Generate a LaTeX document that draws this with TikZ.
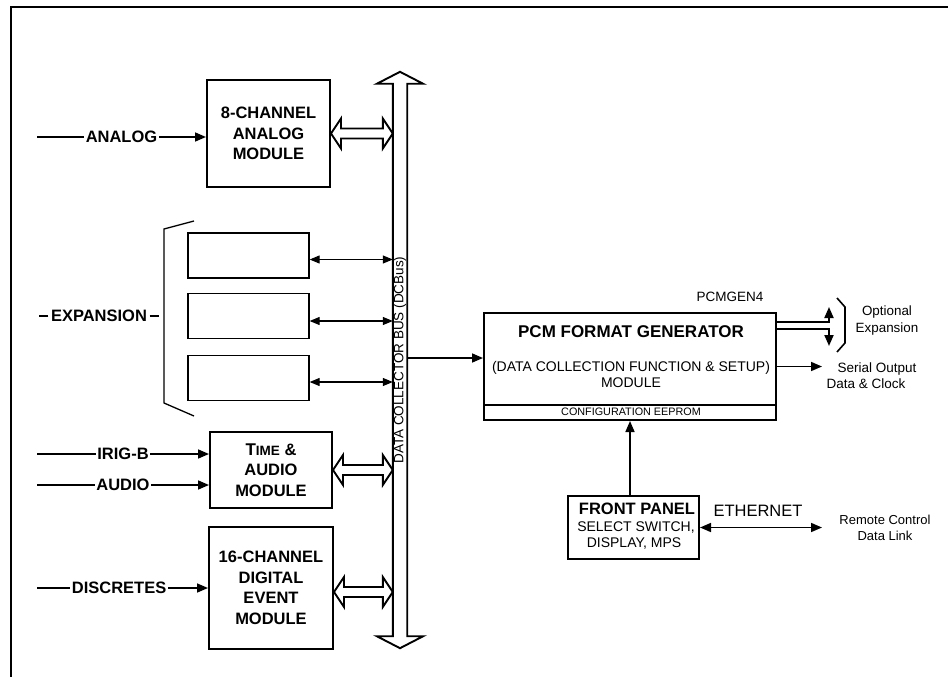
\documentclass[tikz,border=0pt]{standalone}
\usepackage{fontspec}
\setmainfont{Liberation Sans}
\usetikzlibrary{arrows.meta,calc}
\newcommand\fsz[2]{\fontsize{#1}{#2}\selectfont}
\newcommand\hollowarrow[2]{\draw[blk] (#1) -- ++(10,15) -- ++(0,-10) -- ($(#2)+(-10,5)$) -- ++(0,10) -- (#2) -- ++(-10,-15) -- ++(0,10) -- ($(#1)+(10,-5)$) -- ++(0,-10) -- cycle;}
\begin{document}
\begin{tikzpicture}[x=1pt,y=-1pt,
 box/.style={draw,line width=2pt,inner sep=0pt,align=center},
 ebox/.style={draw,line width=1.3pt,minimum width=121pt,minimum height=45pt,inner sep=0pt},
 arr/.style={line width=1.6pt,-{Triangle[length=11pt,width=9pt]}},
 darr/.style={line width=1.6pt,{Triangle[length=11pt,width=9pt]}-{Triangle[length=11pt,width=9pt]}},
 tarr/.style={line width=1.1pt,{Triangle[length=10pt,width=8pt]}-{Triangle[length=10pt,width=8pt]}},
 blk/.style={line width=1.9pt,line join=miter},
 lbl/.style={fill=white,inner sep=1.5pt,font=\bfseries\fsz{16.5}{19}},
 bold/.style={font=\bfseries\fsz{16.5}{20.5}},
]
\useasboundingbox (0,0) rectangle (948,677);
\fill[white] (0,0) rectangle (948,677);
% frame
\draw[line width=2pt] (11,677) -- (11,7) -- (948,7);

% modules
\node[box,bold,minimum width=123pt,minimum height=107pt] (an8) at (268.5,133.5) {8-CHANNEL\\ANALOG\\MODULE};
\node[box,bold,minimum width=122pt,minimum height=76pt] (ta) at (271,470) {{\fsz{17}{20.5}T}{\fsz{13.5}{20.5}IME} \&\\AUDIO\\MODULE};
\node[box,bold,minimum width=124pt,minimum height=122pt] (dg) at (271,588) {16-CHANNEL\\DIGITAL\\EVENT\\MODULE};

% expansion boxes
\node[ebox] (e1) at (248.5,255.5) {};
\node[ebox] (e2) at (248.5,316) {};
\node[ebox] (e3) at (248.5,378) {};
\draw[line width=1.3pt] (194,221) -- (164,229) -- (164,403) -- (194,416);
\node[lbl,fill=none,inner sep=2.5pt] (explbl) at (99,316) {EXPANSION};
\draw[line width=2pt] (explbl.west) -- ++(-9,0);
\draw[line width=2pt] (explbl.east) -- ++(9,0);

% bus
\node[minimum width=14pt,minimum height=552pt,inner sep=0pt] (bus) at (400,360) {};
\draw[blk] ($(bus.north)+(0,-12)$) -- ($(bus.north east)+(16,0)$) -- (bus.north east) -- (bus.south east) -- ($(bus.south east)+(16,0)$) -- ($(bus.south)+(0,12)$) -- ($(bus.south west)+(-16,0)$) -- (bus.south west) -- (bus.north west) -- ($(bus.north west)+(-16,0)$) -- cycle;
\node[rotate=90,font=\fsz{13.5}{15},inner sep=0pt] (bustxt) at (bus.center) {DATA COLLECTOR BUS (DCBus)};

% thin arrows from expansion boxes
\coordinate (t1) at ([yshift=-4pt]e1.east);
\coordinate (t2) at ([yshift=-5pt]e2.east);
\coordinate (t3) at ([yshift=-4pt]e3.east);
\draw[tarr] (t1) -- (t1 -| bus.west);
\draw[tarr] (t2) -- (t2 -| bus.west);
\draw[tarr] (t3) -- (t3 -| bus.west);

% hollow arrows to bus
\coordinate (b1a) at (an8.east); \coordinate (b1b) at (an8.east -| bus.west);
\coordinate (b2a) at (ta.east);  \coordinate (b2b) at (ta.east -| bus.west);
\coordinate (b3a) at ([yshift=-4pt]dg.east); \coordinate (b3b) at (b3a -| bus.west);
\hollowarrow{b1a}{b1b}
\hollowarrow{b2a}{b2b}
\hollowarrow{b3a}{b3b}

% inputs
\coordinate (sA) at (37,137);
\coordinate (sI) at (37,454);
\coordinate (sU) at (37,485);
\coordinate (sD) at (37,588);
\draw[arr] (sA) -- node[lbl] {ANALOG} (sA -| an8.west);
\draw[arr] (sI) -- node[lbl] {IRIG-B} (sI -| ta.west);
\draw[arr] (sU) -- node[lbl] {AUDIO} (sU -| ta.west);
\draw[arr] (sD) -- node[lbl,pos=0.48] {DISCRETES} (sD -| dg.west);

% PCM format generator
\node[box,minimum width=292pt,minimum height=107pt] (pcm) at (630,366.5) {};
\draw[line width=1.6pt] ([yshift=16pt]pcm.south west) -- ([yshift=16pt]pcm.south east);
\node[font=\bfseries\fsz{17}{20}] (pcmt) at (631,332) {PCM FORMAT GENERATOR};
\node[font=\fsz{14}{15.5},align=center] (pcmd) at (631,374.5) {(DATA COLLECTION FUNCTION \& SETUP)\\MODULE};
\node[font=\fsz{10.8}{12}] (eeprom) at (631,412) {CONFIGURATION EEPROM};
\node[font=\fsz{13.5}{15}] (pcmgen) at (730,297) {PCMGEN4};
\coordinate (busout) at ([yshift=8.5pt]pcm.west);
\draw[arr] (busout -| bus.east) -- (busout);

% optional expansion
\coordinate (oU) at (829,307);
\coordinate (oD) at (829,346);
\draw[arr,line width=1.9pt] ([yshift=-10pt]pcm.north east) -| (oU);
\draw[arr,line width=1.9pt] ([yshift=-17pt]pcm.north east) -| (oD);
\draw[line width=1.6pt] (837,298) -- (845,307) -- (845,343) -- (837,352);
\node[font=\fsz{13.4}{17},align=center] (opt) at (887,321) {Optional\\Expansion};

% serial output
\coordinate (sEnd) at (822,367);
\draw[arr] (pcm.east) -- (pcm.east -| sEnd);
\node[font=\fsz{13.5}{15}] (ser1) at (877,369) {Serial Output};
\node[font=\fsz{13.5}{15}] (ser2) at (866,384) {Data \& Clock};

% front panel
\node[box,minimum width=131pt,minimum height=63pt] (fp) at (633.5,527.5) {};
\node[font=\bfseries\fsz{16.5}{19}] (fp1) at (637,509) {FRONT PANEL};
\node[font=\fsz{14}{16}] (fp2) at (636,528) {SELECT SWITCH,};
\node[font=\fsz{14}{16}] (fp3) at (634,544) {DISPLAY, MPS};
\draw[arr] (fp.north -| pcm.south) -- (pcm.south);

% ethernet
\coordinate (eEnd) at (822,527.5);
\draw[darr] (fp.east) -- (eEnd);
\node[font=\fsz{16.5}{19}] (eth) at (758,511) {ETHERNET};
\node[font=\fsz{13}{16},align=center] (rc) at (885,528) {Remote Control\\Data Link};
\end{tikzpicture}
\end{document}
